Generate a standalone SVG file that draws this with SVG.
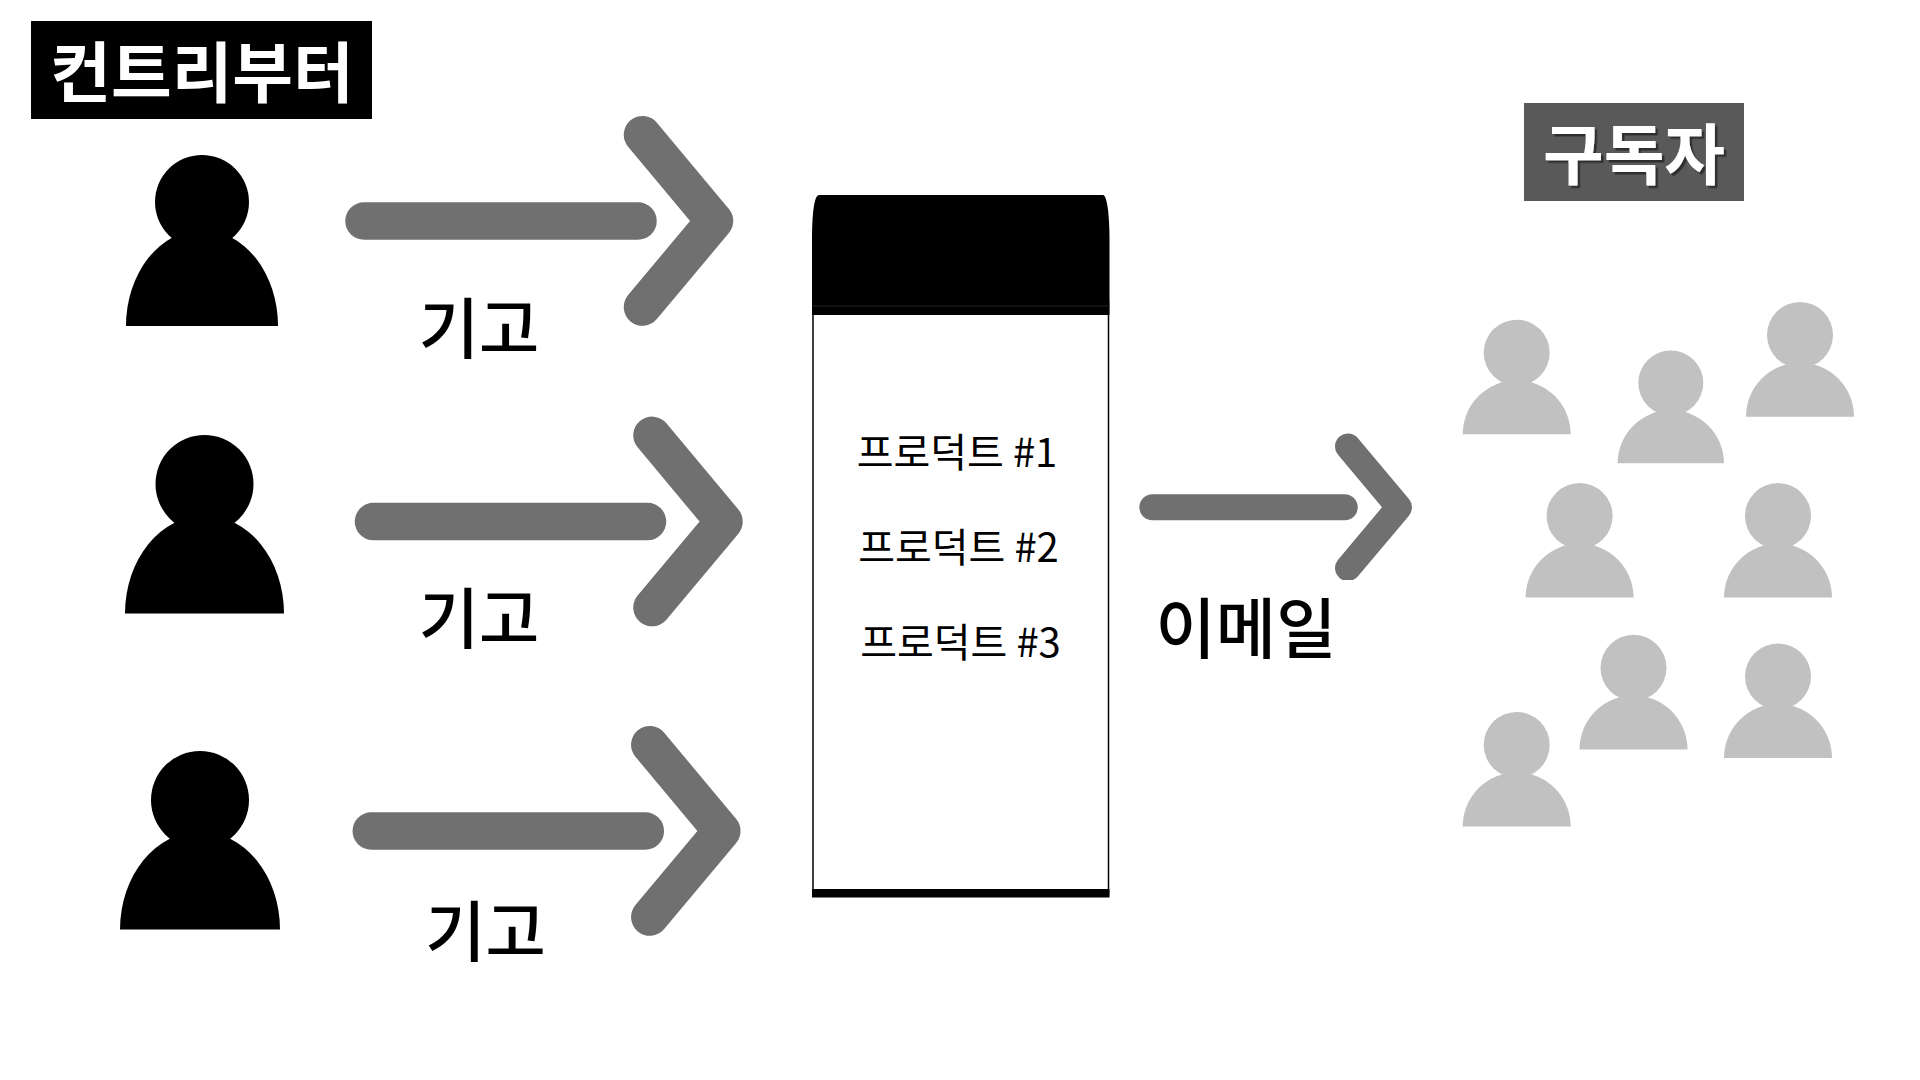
<svg xmlns="http://www.w3.org/2000/svg" xmlns:xlink="http://www.w3.org/1999/xlink" width="1920" height="1080" viewBox="0 0 1920 1080">
<style>
text{font-family:"Noto Sans CJK KR","Noto Sans",sans-serif;text-anchor:middle}
.ttl{font-weight:700;font-size:66px;fill:#fff}
.lbl{font-size:65.500px;font-weight:500;fill:#000}
.prd{font-size:40px;fill:#000}
.arr{fill:none;stroke:#707070;stroke-linecap:round;stroke-linejoin:round}
.sub{fill:#c1c1c1}
</style>
<defs>
<filter id="sh" x="-10%" y="-10%" width="120%" height="130%"><feDropShadow dx="2.5" dy="2.5" stdDeviation="0.5" flood-color="#2e2e2e"/></filter>
<g id="bigArrow" class="arr" stroke-width="37.5"><path d="M364 221H638"/><path d="M642.5 134.7L714.5 221L642.5 307"/></g>
<g id="sub"><circle cx="0" cy="-81.6" r="33"/><path d="M-54 0A54 54 0 0 1 54 0Z"/></g>
<clipPath id="clipMail"><rect x="1100" y="400" width="340" height="180"/></clipPath>
</defs>
<rect width="1920" height="1080" fill="#fff"/>
<g id="contributors-title"><rect x="31" y="21" width="341" height="98" fill="#000"/><text class="ttl" x="202" y="97">컨트리부터</text></g>
<g id="contributor-1"><path d="M126 326A76 96 0 0 1 278 326Z"/><ellipse cx="202" cy="202" rx="47" ry="47"/></g>
<g id="contributor-2"><path d="M125 613.500A79.500 98 0 0 1 284 613.500Z"/><ellipse cx="204.500" cy="484" rx="49" ry="49"/></g>
<g id="contributor-3"><path d="M120 929.500A80 98 0 0 1 280 929.500Z"/><ellipse cx="200" cy="800" rx="49" ry="49"/></g>
<g id="connectors">
<use href="#bigArrow"/>
<use href="#bigArrow" transform="translate(9.500 300.600)"/>
<use href="#bigArrow" transform="translate(7.300 610)"/>
<g class="arr" stroke-width="26" clip-path="url(#clipMail)"><path d="M1152.400 507.300H1344.700"/><path d="M1348 446.500L1399 507.300L1348 568"/></g>
</g>
<g id="label-1"><text class="lbl" x="479" y="353">기고</text></g>
<g id="label-2"><text class="lbl" x="479" y="643">기고</text></g>
<g id="label-3"><text class="lbl" x="485.500" y="956">기고</text></g>
<g id="newsletter">
<rect x="813" y="300" width="295.500" height="595" fill="#fff" stroke="#000" stroke-width="1.500"/>
<path d="M812 240C812 215 814 195 819 195H1103C1107 195 1109.500 215 1109.500 240V315H812Z" fill="#000"/>
<path d="M812 306H1109.500" stroke="#222" stroke-width="1"/>
<rect x="812" y="889" width="297.500" height="8.500" fill="#000"/>
<text class="prd" x="957" y="467">프로덕트 #1</text>
<text class="prd" x="958.500" y="562">프로덕트 #2</text>
<text class="prd" x="960.500" y="657">프로덕트 #3</text>
</g>
<g id="label-email"><text class="lbl" x="1246" y="653">이메일</text></g>
<g id="subscribers-title"><rect x="1524" y="103" width="220" height="98" fill="#595959"/><text class="ttl" x="1634" y="179" filter="url(#sh)">구독자</text></g>
<g id="subscribers" class="sub">
<use href="#sub" id="subscriber-1" x="1516.700" y="434.300"/>
<use href="#sub" id="subscriber-2" transform="translate(1670.800 463.300) scale(.985)"/>
<use href="#sub" id="subscriber-3" x="1800" y="416.700"/>
<use href="#sub" id="subscriber-4" x="1579.600" y="597.600"/>
<use href="#sub" id="subscriber-5" x="1778" y="597.600"/>
<use href="#sub" id="subscriber-6" x="1633.500" y="749.400"/>
<use href="#sub" id="subscriber-7" x="1778" y="758"/>
<use href="#sub" id="subscriber-8" x="1516.700" y="826.500"/>
</g>
</svg>
